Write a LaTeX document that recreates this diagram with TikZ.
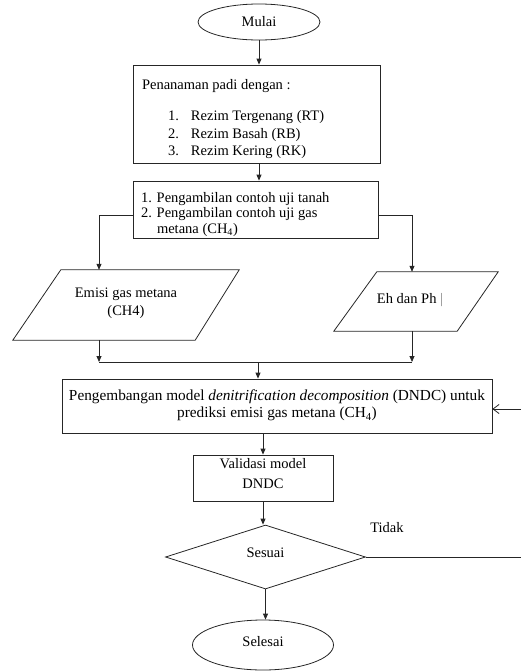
\documentclass[tikz,border=0pt]{standalone}
\usepackage{fontspec}
\setmainfont{Liberation Serif}
\usepackage{tikz}
\usetikzlibrary{arrows.meta,positioning,shapes.geometric}

\begin{document}
\begin{tikzpicture}[
x=1pt, y=-1pt,
every node/.style={font=\fontsize{14.5}{17.5}\selectfont},
line/.style={draw=black!85, line width=0.8pt},
box/.style={line, rectangle, inner sep=0pt},
oval/.style={line, ellipse, inner sep=0pt},
data/.style={rectangle, inner sep=0pt},
arrow/.style={line, -{Triangle[length=6pt,width=5pt]}},
back/.style={line, -{Straight Barb[length=6pt,width=9pt]}}
]
\useasboundingbox (0,0) rectangle (521,672);
\node[oval, minimum width=122pt, minimum height=36pt] (mulai) at (259,22) {Mulai};
\node[box, minimum width=247pt, minimum height=98pt] (tanam) at (256.5,114)
  {\raisebox{-5pt}[\height][\depth]{\parbox{229pt}{Penanaman padi dengan :\\[14pt]
   \hspace*{26pt}\makebox[23pt][l]{1.}Rezim Tergenang (RT)\\
   \hspace*{26pt}\makebox[23pt][l]{2.}Rezim Basah (RB)\\
   \hspace*{26pt}\makebox[23pt][l]{3.}Rezim Kering (RK)}}};
\node[box, minimum width=245pt, minimum height=57pt,
  font=\fontsize{14.5}{15.5}\selectfont] (ambil) at (255.5,209.5)
  {\raisebox{-5pt}[\height][\depth]{\parbox{229pt}{1. Pengambilan contoh uji tanah\\
   2. Pengambilan contoh uji gas\\
   \hspace*{16pt}metana (CH\textsubscript{4})}}};
\node[data, minimum width=226pt, minimum height=70pt] (emisi) at (126,305)
  {\raisebox{2pt}[\height][\depth]{\begin{tabular}{@{}c@{}}Emisi gas metana\\(CH4)\end{tabular}}};
\node[data, minimum width=164pt, minimum height=59pt] (eh) at (416,301.5)
  {\hspace*{-12pt}\raisebox{6pt}{Eh dan Ph {\color{black!50}|}}};
\draw[line] ([xshift=48pt]emisi.north west)--(emisi.north east)
  --([xshift=-44pt]emisi.south east)--(emisi.south west)--cycle;
\draw[line] ([xshift=43pt]eh.north west)--(eh.north east)
  --([xshift=-41pt]eh.south east)--(eh.south west)--cycle;
\node[box, minimum width=430pt, minimum height=54pt,
  font=\fontsize{15.3}{17}\selectfont] (model) at (277,406)
  {\raisebox{4pt}{\begin{tabular}{@{}c@{}}Pengembangan model \textit{denitrification decomposition} (DNDC) untuk\\
   prediksi emisi gas metana (CH\textsubscript{4})\end{tabular}}};
\node[box, minimum width=140pt, minimum height=46pt,
  font=\fontsize{14.5}{20}\selectfont] (valid) at (263,478)
  {\raisebox{4pt}[\height][\depth]{\begin{tabular}{@{}c@{}}Validasi model\\DNDC\end{tabular}}};
\node[line, diamond, minimum width=200pt, minimum height=64pt, inner sep=0pt] (sesuai) at (265.5,557)
  {\raisebox{9pt}{Sesuai}};
\node[oval, minimum width=141pt, minimum height=50pt] (selesai) at (263,645)
  {\raisebox{7pt}{Selesai}};
\node (tidak) at (387,528) {Tidak};
\coordinate (kiri) at (99,0);
\coordinate (kanan) at (412,0);
\coordinate (gabung) at (258,362);
\coordinate (balik) at (521,557);
\coordinate (masuk) at (521,409);
\draw[arrow] (mulai)--(mulai.south |- tanam.north);
\draw[arrow] (tanam.south -| mulai)--(ambil.north -| mulai);
\draw[arrow] ([yshift=-6pt]ambil.west) -| (kiri |- emisi.north);
\draw[arrow] ([yshift=-6pt]ambil.east) -| (kanan |- eh.north);
\draw[arrow] (kiri |- emisi.south)--(kiri |- gabung);
\draw[arrow] (kanan |- eh.south)--(kanan |- gabung);
\draw[line] (kiri |- gabung)--(kanan |- gabung);
\draw[arrow] (gabung)--(gabung |- model.north);
\draw[arrow] (valid.north |- model.south)--(valid.north);
\draw[arrow] (valid.south)--(sesuai.north -| valid.south);
\draw[arrow] (sesuai.south)--(sesuai.south |- selesai.north);
\draw[line] (sesuai.east)--(balik);
\draw[back] (masuk)--(model.east |- masuk);
\end{tikzpicture}
\end{document}
